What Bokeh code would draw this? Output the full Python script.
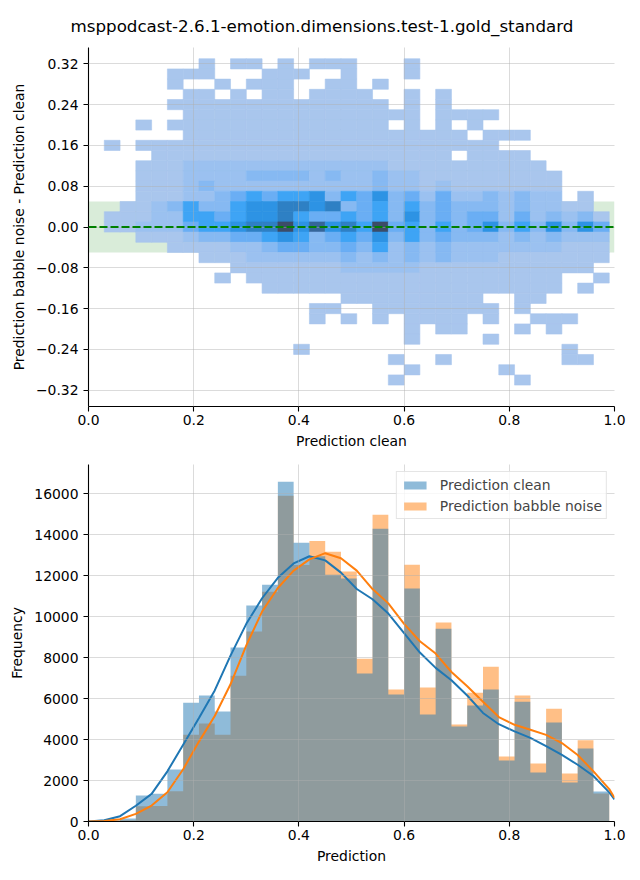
import numpy as np
from bokeh.plotting import figure
from bokeh.models import (ColumnDataSource, LinearColorMapper, FixedTicker, Range1d,
                          Legend, LegendItem, Span, BoxAnnotation)
from bokeh.transform import transform
from bokeh.layouts import column
from bokeh.embed import file_html
from bokeh.resources import INLINE

TITLE = "msppodcast-2.6.1-emotion.dimensions.test-1.gold_standard"

# ---------------- top panel: 2-D histogram (x: prediction clean, y: babble - clean)
CELL_W = 0.03          # bin width along x
CELL_H = 0.02          # bin height along y
TOP_ROW_CENTER = 0.32  # centre of the first (top) row of bins
# intensity level per cell (0 = empty, 1 = few counts ... 9 = maximum), rows top -> bottom
CELL_ROWS = [
    "0000000101 1010111000 1000000000 000",
    "0000011100 0111001000 1000000000 000",
    "0000010010 1110011010 0000000000 000",
    "0000001101 0110111100 1010000000 000",
    "0000011111 1111111110 1010000000 000",
    "0000001111 1111111111 1011110000 000",
    "0001011111 1111111110 1010100000 000",
    "0000001111 1111111111 1111011100 000",
    "0101111111 1111111111 1111110000 000",
    "0000111111 1111111111 1110111100 000",
    "0001112222 2222222221 1111111110 000",
    "0001112222 3333232232 2111111111 000",
    "0001112322 2222222232 2121111111 000",
    "0001112234 5455635463 4242232322 010",
    "0011235335 6677673453 5343332322 110",
    "0111225545 6675445453 6343442423 231",
    "0112224556 7796867594 5353463536 364",
    "0001112334 4565345463 5343332323 222",
    "0000011112 2344334352 3232222222 111",
    "0000000111 2222223232 3232221111 111",
    "0000000001 1111112222 2111111111 110",
    "0000000010 1111111111 1111111111 001",
    "0000000000 0111111111 1111111111 010",
    "0000000000 0000001111 1111100110 000",
    "0000000000 0000110011 1111110100 000",
    "0000000000 0000101010 1111010011 100",
    "0000000000 0000000000 1011000101 000",
    "0000000000 0000000000 1000010000 000",
    "0000000000 0001000000 0000000000 100",
    "0000000000 0000000001 0010000000 110",
    "0000000000 0000000000 1000001000 000",
    "0000000000 0000000001 0000000100 000",
]
BAND_LOW, BAND_HIGH = -0.05, 0.05
TOP_X_TICKS = [0, 0.2, 0.4, 0.6, 0.8, 1.0]
TOP_X_LABELS = ["0.0", "0.2", "0.4", "0.6", "0.8", "1.0"]
TOP_Y_TICKS = [-0.32, -0.24, -0.16, -0.08, 0, 0.08, 0.16, 0.24, 0.32]
TOP_Y_LABELS = ["\u22120.32", "\u22120.24", "\u22120.16", "\u22120.08", "0.00",
                "0.08", "0.16", "0.24", "0.32"]

# ---------------- bottom panel: histograms + KDE
BIN_WIDTH = 0.03
CLEAN_COUNTS = [40, 60, 150, 1270, 1350, 2540, 5800, 6150, 5370, 8490, 10540,
                11560, 16590, 13610, 12950, 12050, 11870, 7220, 14290, 6200, 11370,
                5220, 9410, 4640, 5660, 6440, 2980, 5850, 2390, 4830, 1900, 3560, 1460]
BABBLE_COUNTS = [10, 30, 60, 750, 760, 1480, 4240, 4780, 4240, 7120, 9280,
                 11220, 15900, 12520, 13700, 13170, 12200, 7950, 14980, 6440, 12540,
                 6540, 9710, 4730, 6290, 7560, 3170, 6150, 2830, 5510, 2340, 3970, 1370]
KDE_X = [0.00, 0.03, 0.06, 0.09, 0.12, 0.15, 0.18, 0.21, 0.24, 0.27, 0.30, 0.33,
         0.36, 0.39, 0.42, 0.45, 0.48, 0.51, 0.54, 0.57, 0.60, 0.63, 0.66, 0.69,
         0.72, 0.75, 0.78, 0.81, 0.84, 0.87, 0.90, 0.93, 0.96, 0.99, 1.00]
KDE_CLEAN = [0, 60, 260, 770, 1350, 2450, 3750, 5050, 6400, 8100, 9650, 10900,
             11900, 12600, 12950, 12750, 12150, 11350, 10850, 10150, 9200, 8250,
             7500, 6900, 6150, 5300, 4750, 4400, 4080, 3680, 3250, 2770, 2220, 1420, 1080]
KDE_BABBLE = [0, 30, 110, 370, 780, 1430, 2550, 3900, 5150, 6700, 8600, 10250,
              11400, 12250, 12800, 13100, 12850, 12250, 11350, 10650, 9650, 8800,
              8200, 7300, 6600, 5850, 5100, 4720, 4480, 4230, 3830, 3250, 2450, 1580, 1160]
BOT_Y_TICKS = [0, 2000, 4000, 6000, 8000, 10000, 12000, 14000, 16000]

# ---------------- styles
FONT = "DejaVu Sans"
FS = "13.9px"
LEVEL_PALETTE = ["#a9c6ed", "#9bc1f0", "#86b9f2", "#6aaef4", "#3ea4f5",
                 "#2d93e4", "#2e80c4", "#35669a", "#3c4c68"]
C_CLEAN = "#1f77b4"
C_BABBLE = "#ff7f0e"


def style(p):
    p.outline_line_color = None
    p.background_fill_color = "white"
    p.border_fill_color = "white"
    for ax in (p.xaxis[0], p.yaxis[0]):
        ax.axis_line_color = "black"
        ax.axis_line_width = 1.1
        ax.major_tick_line_color = "black"
        ax.major_tick_line_width = 1.1
        ax.major_tick_out = 5
        ax.major_tick_in = 0
        ax.minor_tick_line_color = None
        ax.major_label_text_font = FONT
        ax.major_label_text_font_size = FS
        ax.major_label_text_color = "black"
        ax.major_label_standoff = 5
        ax.axis_label_text_font = FONT
        ax.axis_label_text_font_size = FS
        ax.axis_label_text_font_style = "normal"
        ax.axis_label_text_color = "black"
        ax.axis_label_standoff = 6
    p.xaxis[0].major_label_standoff = 3
    p.xaxis[0].axis_label_standoff = 5
    for g in (p.xgrid[0], p.ygrid[0]):
        g.grid_line_color = "#b0b0b0"
        g.grid_line_alpha = 0.45
        g.grid_line_width = 1
        g.level = "annotation"


# ================= top figure
levels = [[int(ch) for ch in row.replace(" ", "")] for row in CELL_ROWS]
xs, ys, lv = [], [], []
for r, row in enumerate(levels):
    for c, v in enumerate(row):
        if v > 0:
            xs.append((c + 0.5) * CELL_W)
            ys.append(TOP_ROW_CENTER - r * CELL_H)
            lv.append(v)
cells = ColumnDataSource(dict(x=xs, y=ys, level=lv))
mapper = LinearColorMapper(palette=LEVEL_PALETTE, low=0.5, high=9.5)

p1 = figure(width=632, height=456, output_backend="svg", toolbar_location=None,
            x_range=Range1d(0, 1), y_range=Range1d(-0.352, 0.352),
            min_border_left=88, min_border_right=18, min_border_top=47,
            min_border_bottom=50, title=TITLE)
p1.title.text_font = FONT
p1.title.text_font_size = "16.7px"
p1.title.text_font_style = "normal"
p1.title.text_color = "black"
p1.title.align = "left"
p1.title.offset = -18
p1.title.standoff = 24

p1.add_layout(BoxAnnotation(bottom=BAND_LOW, top=BAND_HIGH, fill_color="green",
                            fill_alpha=0.15, line_color=None, level="underlay"))
p1.rect(x="x", y="y", width=CELL_W, height=CELL_H, source=cells,
        fill_color=transform("level", mapper), line_color=transform("level", mapper),
        line_width=0.6)
p1.add_layout(Span(location=0, dimension="width", line_color="green",
                   line_dash="8 3", line_width=2))
style(p1)
p1.xaxis.ticker = FixedTicker(ticks=TOP_X_TICKS)
p1.xaxis.major_label_overrides = dict(zip(TOP_X_TICKS, TOP_X_LABELS))
p1.yaxis.ticker = FixedTicker(ticks=TOP_Y_TICKS)
p1.yaxis.major_label_overrides = dict(zip(TOP_Y_TICKS, TOP_Y_LABELS))
p1.xaxis.axis_label = "Prediction clean"
p1.yaxis.axis_label = "Prediction babble noise - Prediction clean"

# ================= bottom figure
edges = np.round(np.arange(len(CLEAN_COUNTS) + 1) * BIN_WIDTH, 4)
p2 = figure(width=632, height=415, output_backend="svg", toolbar_location=None,
            x_range=Range1d(0, 1), y_range=Range1d(0, 17430),
            min_border_left=88, min_border_right=18, min_border_top=8,
            min_border_bottom=50)
r_babble = p2.varea_step(x=list(edges), y1=[0] * len(edges),
                         y2=BABBLE_COUNTS + [BABBLE_COUNTS[-1]], step_mode="after",
                         fill_color=C_BABBLE, fill_alpha=0.5)
r_clean = p2.varea_step(x=list(edges), y1=[0] * len(edges),
                        y2=CLEAN_COUNTS + [CLEAN_COUNTS[-1]], step_mode="after",
                        fill_color=C_CLEAN, fill_alpha=0.5)
p2.line(KDE_X, KDE_CLEAN, line_color=C_CLEAN, line_width=2)
p2.line(KDE_X, KDE_BABBLE, line_color=C_BABBLE, line_width=2)
style(p2)
p2.xaxis.ticker = FixedTicker(ticks=TOP_X_TICKS)
p2.xaxis.major_label_overrides = dict(zip(TOP_X_TICKS, TOP_X_LABELS))
p2.yaxis.ticker = FixedTicker(ticks=BOT_Y_TICKS)
p2.xaxis.axis_label = "Prediction"
p2.yaxis.axis_label = "Frequency"

legend = Legend(items=[LegendItem(label="Prediction clean", renderers=[r_clean]),
                       LegendItem(label="Prediction babble noise", renderers=[r_babble])],
                location="top_right", margin=7, padding=4, spacing=4,
                glyph_width=28, glyph_height=10, label_height=17, label_standoff=11,
                label_text_font=FONT, label_text_font_size=FS,
                border_line_color="#cccccc", border_line_width=1,
                background_fill_color="white", background_fill_alpha=0.8)
p2.add_layout(legend)

layout = column(p1, p2)
open("out.html", "w").write(file_html(layout, INLINE))
